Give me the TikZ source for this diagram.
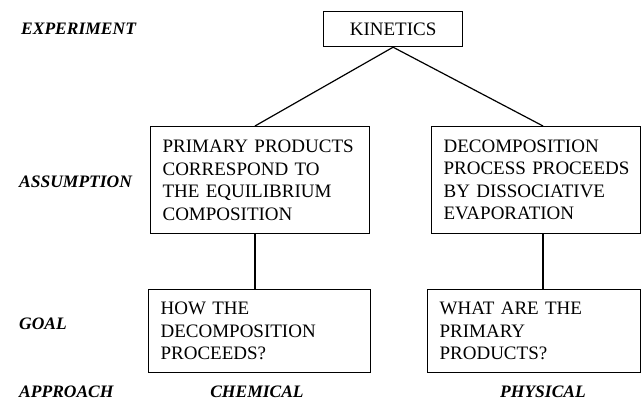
\documentclass[tikz,border=0pt]{standalone}
\usepackage{fontspec}
\setmainfont{Liberation Serif}
\begin{document}
\begin{tikzpicture}[x=1pt,y=-1pt,
  every node/.style={font=\fontsize{19}{22.5}\selectfont},
  box/.style={draw, line width=1.2pt, rectangle, anchor=north west, align=left, inner xsep=12pt, inner ysep=0pt},
  lab/.style={anchor=west, font=\fontsize{17.5}{20}\selectfont\bfseries\itshape, inner sep=0pt},
  conn/.style={line width=1.2pt}]
\useasboundingbox (0,0) rectangle (641,403);
% row labels
\node[lab] (lexp) at (21,29) {EXPERIMENT};
\node[lab] (lass) at (19,182) {ASSUMPTION};
\node[lab] (lgoal) at (19,324) {GOAL};
\node[lab] (lapp) at (19,392) {APPROACH};
% top
\node[draw, line width=1.2pt, minimum width=139pt, minimum height=35pt, inner sep=0pt, anchor=north west] (kin) at (323,11) {KINETICS};
% assumptions
\node[box, text width=195pt, minimum height=107pt] (a1) at (150,126) {\mbox{PRIMARY PRODUCTS}\\\mbox{CORRESPOND TO}\\\mbox{THE EQUILIBRIUM}\\\mbox{COMPOSITION}};
\node[box, text width=184.5pt, minimum height=107pt] (a2) at (431,126) {\mbox{DECOMPOSITION}\\\mbox{PROCESS PROCEEDS}\\\mbox{BY DISSOCIATIVE}\\\mbox{EVAPORATION}};
% goals
\node[box, text width=198pt, minimum height=83pt] (g1) at (148,289) {\mbox{HOW THE}\\\mbox{DECOMPOSITION}\\\mbox{PROCEEDS?}};
\node[box, text width=188.5pt, minimum height=83pt] (g2) at (427,289) {\mbox{WHAT ARE THE}\\\mbox{PRIMARY}\\\mbox{PRODUCTS?}};
% approach
\node[lab, anchor=center] (chem) at (257,392) {CHEMICAL};
\node[lab, anchor=center] (phys) at (543,392) {PHYSICAL};
% connectors
\coordinate (a1t) at (255,126);
\coordinate (a2t) at (543,126);
\draw[conn] (kin.south) -- (a1t);
\draw[conn] (kin.south) -- (a2t);
\draw[conn] (a1t |- a1.south) -- (a1t |- g1.north);
\draw[conn] (a2t |- a2.south) -- (a2t |- g2.north);
\end{tikzpicture}
\end{document}
